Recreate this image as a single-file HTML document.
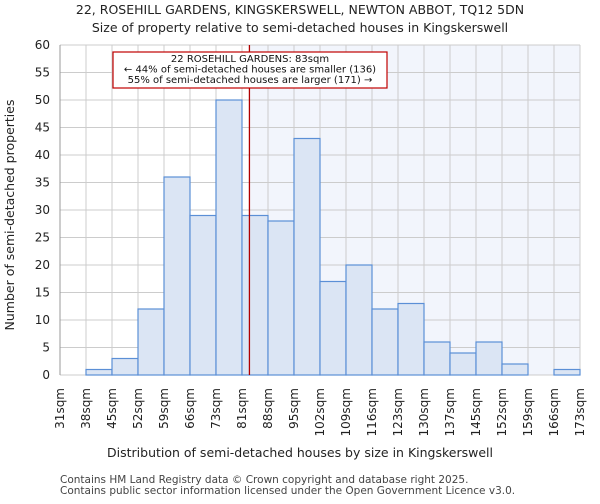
<!DOCTYPE html>
<html><head><meta charset="utf-8"><style>
body{margin:0;background:#fff;font-family:"DejaVu Sans","Liberation Sans",sans-serif}
</style></head><body>
<svg id="c" width="600" height="500" viewBox="0 0 600 500" xmlns="http://www.w3.org/2000/svg" font-family="DejaVu Sans, Liberation Sans, sans-serif">
<text x="300" y="14" text-anchor="middle" font-size="12.5" fill="#222">22, ROSEHILL GARDENS, KINGSKERSWELL, NEWTON ABBOT, TQ12 5DN</text>
<text x="300" y="32" text-anchor="middle" font-size="12.5" fill="#222">Size of property relative to semi-detached houses in Kingskerswell</text>
<g id="plot"></g>
<text x="300" y="457" text-anchor="middle" font-size="12.5" fill="#222">Distribution of semi-detached houses by size in Kingskerswell</text>
<text transform="translate(14,215) rotate(-90)" text-anchor="middle" font-size="12.5" fill="#222">Number of semi-detached properties</text>
<text x="60" y="483" font-size="10.5" fill="#444">Contains HM Land Registry data © Crown copyright and database right 2025.</text>
<text x="60" y="494" font-size="10.5" fill="#444">Contains public sector information licensed under the Open Government Licence v3.0.</text>
</svg>
<script>
const edgeLabels=["31sqm","38sqm","45sqm","52sqm","59sqm","66sqm","73sqm","81sqm","88sqm","95sqm","102sqm","109sqm","116sqm","123sqm","130sqm","137sqm","145sqm","152sqm","159sqm","166sqm","173sqm"];
const counts=[0,1,3,12,36,29,50,29,28,43,17,20,12,13,6,4,6,2,0,1];
const yTicks=[0,5,10,15,20,25,30,35,40,45,50,55,60];
const markerValue=83;
const edgeValues=[31,38,45,52,59,66,73,81,88,95,102,109,116,123,130,137,145,152,159,166,173];
const L=60,R=580,T=45,B=375,YMAX=60;
const NS="http://www.w3.org/2000/svg";
const g=document.getElementById('plot');
const bw=(R-L)/counts.length;
const x=i=>L+i*bw;
const y=v=>B-(v/YMAX)*(B-T);
function xv(v){for(let i=0;i<edgeValues.length-1;i++){if(v<=edgeValues[i+1])return x(i)+(v-edgeValues[i])/(edgeValues[i+1]-edgeValues[i])*bw;}return R;}
function mk(t,a){const e=document.createElementNS(NS,t);for(const k in a)e.setAttribute(k,a[k]);g.appendChild(e);return e;}
const mx=xv(markerValue);
const sh=mk('rect',{x:mx,y:T,width:R-mx,height:B-T,fill:'#f2f5fc'});


yTicks.forEach(v=>{
 const l=mk('line',{x1:L,x2:R,y1:y(v),y2:y(v),stroke:'#cccccc','stroke-width':1});
 
 
 const t=mk('text',{x:L-10,y:y(v)+4,'text-anchor':'end','font-size':12,fill:'#222'});
 t.textContent=v;
 
 
});
edgeLabels.forEach((s,i)=>{
 const l=mk('line',{x1:x(i),x2:x(i),y1:T,y2:B,stroke:'#cccccc','stroke-width':1});
 
 
 const t=mk('text',{transform:`translate(${x(i)+4},388) rotate(-90)`,'text-anchor':'end','font-size':12,fill:'#222'});
 t.textContent=s;
 
 
});
counts.forEach((c,i)=>{
 if(c<=0)return;
 const r=mk('rect',{x:x(i),y:y(c),width:bw,height:B-y(c),fill:'#dbe5f4',stroke:'#5b8fd6','stroke-width':1.2});
 
 
});
const ml=mk('line',{x1:mx,x2:mx,y1:T,y2:B,stroke:'#b00000','stroke-width':1.3});


const box=mk('rect',{x:113,y:52,width:274,height:36,fill:'#fff',stroke:'#c00000','stroke-width':1.2});


["22 ROSEHILL GARDENS: 83sqm","← 44% of semi-detached houses are smaller (136)","55% of semi-detached houses are larger (171) →"].forEach((s,i)=>{
 const t=mk('text',{x:250,y:62+i*10.5,'text-anchor':'middle','font-size':10,fill:'#111'});
 t.textContent=s;
 
 
});
const ax=mk('line',{x1:L,x2:L,y1:T,y2:B,stroke:'#999999'});


</script>
</body></html>
